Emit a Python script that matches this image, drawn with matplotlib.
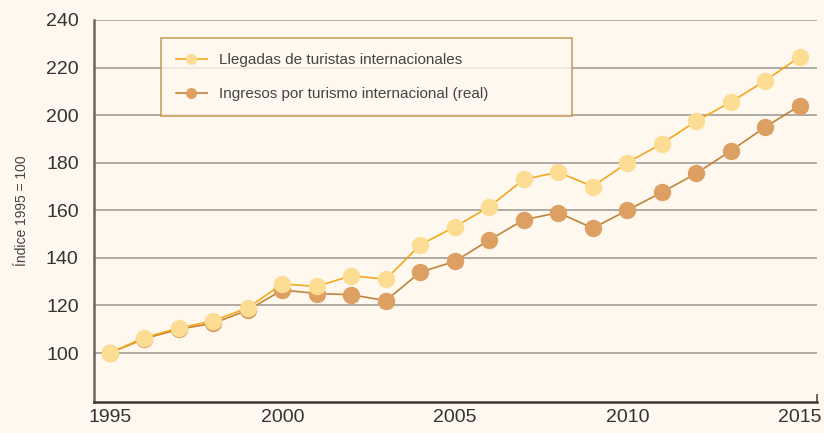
import numpy as np
import matplotlib.pyplot as plt

# Data (index 1995 = 100)
years = list(range(1995, 2016))
llegadas = [100, 106.5, 110.5, 113.5, 119, 129, 128, 132.5, 131, 145.5, 153,
            161.5, 173, 176, 170, 180, 188, 197.5, 205.5, 214.5, 224.5]
ingresos = [100, 106, 110, 112.5, 118, 126.5, 125, 124.5, 122, 134, 138.5,
            147.5, 156, 159, 152.5, 160, 167.5, 175.5, 185, 195, 204]
labels = ['Llegadas de turistas internacionales',
          'Ingresos por turismo internacional (real)']
x_ticks = [1995, 2000, 2005, 2010, 2015]
y_ticks = [100, 120, 140, 160, 180, 200, 220, 240]

bg = '#fef8ef'
plt.rcParams['font.family'] = ['Liberation Sans', 'DejaVu Sans']

fig = plt.figure(figsize=(8.24, 4.33), dpi=100, facecolor=bg)
ax = fig.add_axes([94 / 824, 1 - 402 / 433, 723 / 824, 382 / 433])
ax.set_facecolor(bg)

# Grid
for v in y_ticks:
    ax.axhline(v, color='#9a958f', lw=1.1, zorder=1)

ax.plot(years, ingresos, color='#c0843a', lw=1.2, marker='o', ms=11.5,
        markerfacecolor='#dda062', markeredgecolor='#dda062', zorder=3,
        label=labels[1])
ax.plot(years, llegadas, color='#f5a81c', lw=1.2, marker='o', ms=11.5,
        markerfacecolor='#fddd93', markeredgecolor='#fddd93', zorder=4,
        label=labels[0])

ax.set_xlim(1994.54, 2015.5)
ax.set_ylim(79.4, 240)
ax.set_xticks(x_ticks)
ax.set_yticks(y_ticks)
ax.tick_params(axis='both', length=0, labelsize=14, colors='#333333')
ax.tick_params(axis='x', pad=5)
ax.tick_params(axis='y', pad=11)

ax.spines['top'].set_visible(False)
ax.spines['left'].set_color('#6b6662')
ax.spines['left'].set_linewidth(1.8)
ax.spines['bottom'].set_color('#3a3633')
ax.spines['bottom'].set_linewidth(1.8)
ax.spines['right'].set_color('#6b6662')
ax.spines['right'].set_linewidth(1.4)
ax.spines['right'].set_bounds(79.4, 82.5)

ax.set_ylabel('Índice 1995 = 100', fontsize=10, color='#444444', labelpad=12)

handles, lbls = ax.get_legend_handles_labels()
leg = ax.legend(handles[::-1], lbls[::-1], loc='upper left',
                bbox_to_anchor=(0.0925, 0.743, 0.568, 0.21), mode='expand',
                fontsize=11, frameon=True,
                fancybox=False, facecolor=bg, edgecolor='#c08a3e',
                borderpad=1.0, labelspacing=1.3, handlelength=2.0,
                handletextpad=0.8, markerscale=0.6, borderaxespad=0)
leg.get_frame().set_linewidth(1.2)
for t in leg.get_texts():
    t.set_color('#444444')
leg.set_zorder(2)

fig.savefig('out.png', dpi=100, facecolor=bg)
